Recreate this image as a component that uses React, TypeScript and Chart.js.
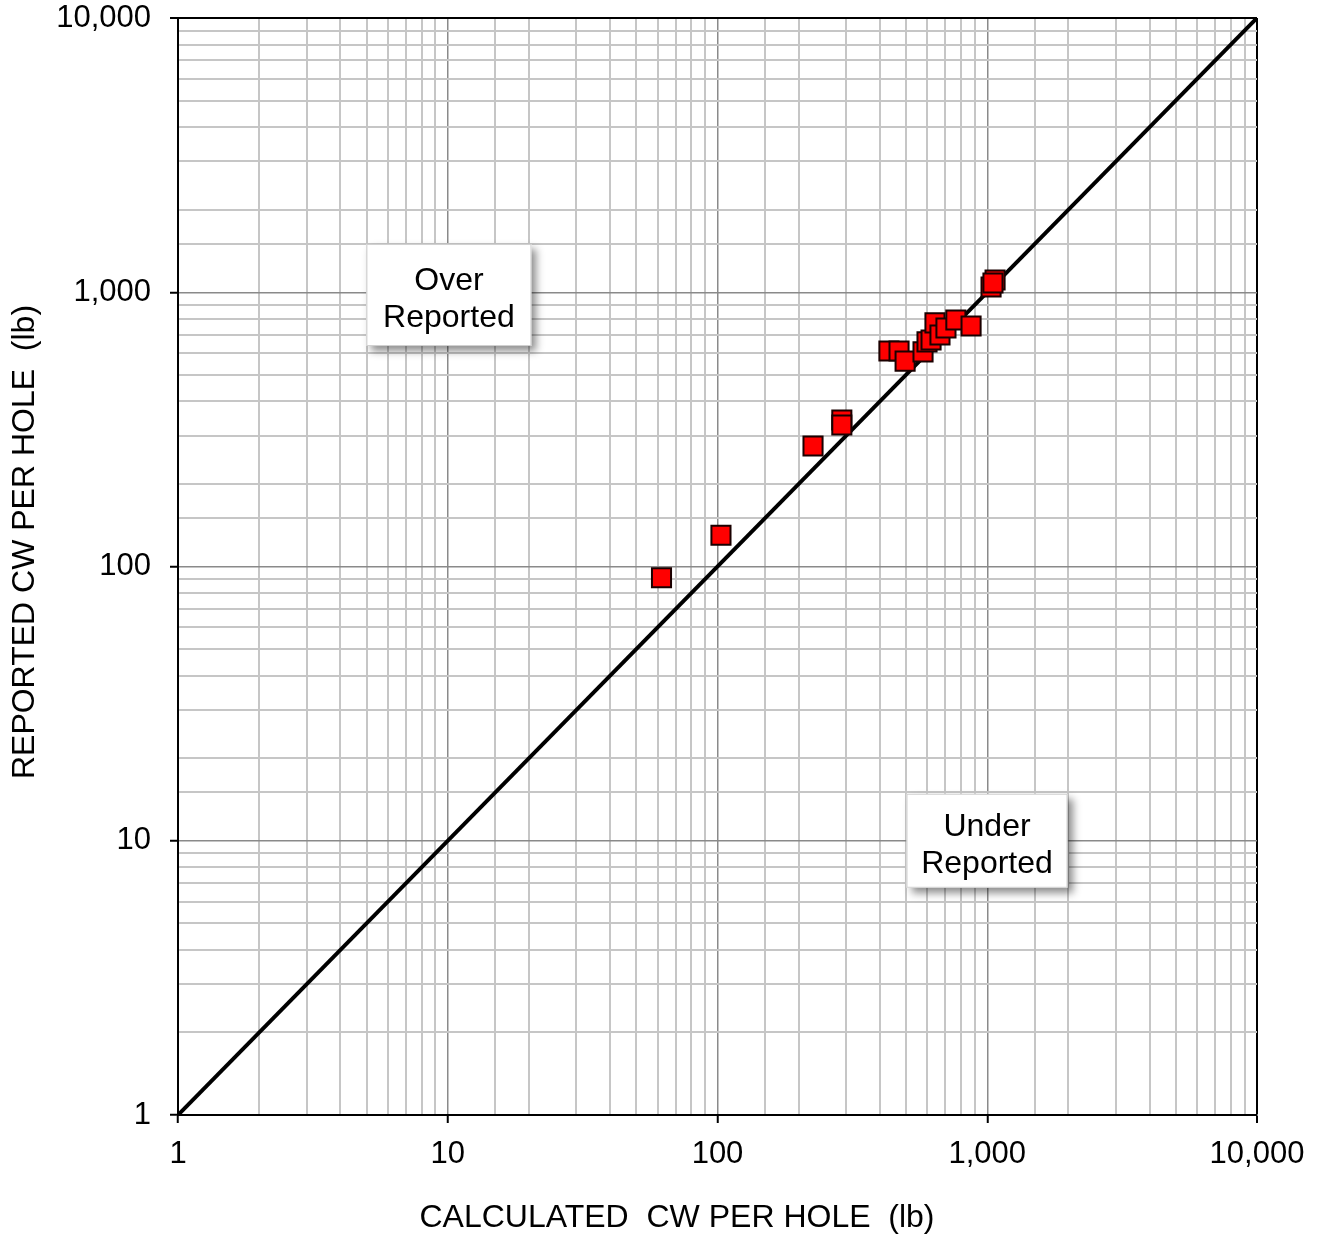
import React, { useEffect, useRef } from "react";
import { Chart, registerables } from "chart.js";

Chart.register(...registerables);

// Calculated vs reported CW per hole (lb)
const calculated = [62, 103, 226, 289, 289, 432, 471, 496, 578, 598, 619, 640, 668, 703, 765, 871, 1033, 1069, 1050];
const reported = [91, 130, 275, 342, 328, 611, 611, 561, 606, 659, 670, 773, 698, 741, 792, 753, 1045, 1109, 1081];

const lineX = [1, 10000];
const lineY = [1, 10000];

const annotationTexts = [["Over", "Reported"], ["Under", "Reported"]];
const annotationX = [10.1, 998];
const annotationY = [977, 10];
const annotationW = [165, 161];
const annotationH = [102, 94];

const xTitle = "CALCULATED  CW PER HOLE  (lb)";
const yTitle = "REPORTED CW PER HOLE  (lb)";

const FONT = "'Liberation Sans', Arial, sans-serif";

const isMajor = (v: number) => {
  const l = Math.log10(v);
  return Math.abs(l - Math.round(l)) < 1e-9;
};

const decorPlugin = {
  id: "decor",
  afterDatasetsDraw(chart: any) {
    const { ctx, scales } = chart;
    const xs = scales.x;
    const ys = scales.y;
    ctx.save();
    for (let i = 0; i < annotationTexts.length; i++) {
      const cx = xs.getPixelForValue(annotationX[i]);
      const cy = ys.getPixelForValue(annotationY[i]);
      const w = annotationW[i];
      const h = annotationH[i];
      ctx.save();
      ctx.shadowColor = "rgba(0,0,0,0.45)";
      ctx.shadowBlur = 8;
      ctx.shadowOffsetX = 5;
      ctx.shadowOffsetY = 5;
      ctx.fillStyle = "#ffffff";
      ctx.fillRect(cx - w / 2, cy - h / 2, w, h);
      ctx.restore();
      ctx.strokeStyle = "#d0d0d0";
      ctx.lineWidth = 1;
      ctx.strokeRect(cx - w / 2 + 0.5, cy - h / 2 + 0.5, w - 1, h - 1);
      ctx.fillStyle = "#000";
      ctx.font = `32px ${FONT}`;
      ctx.textAlign = "center";
      ctx.textBaseline = "middle";
      const lines = annotationTexts[i];
      const lh = 37;
      lines.forEach((t, k) => {
        ctx.fillText(t, cx, cy + 5 + (k - (lines.length - 1) / 2) * lh);
      });
    }
    // axis titles
    ctx.fillStyle = "#000";
    ctx.font = `32px ${FONT}`;
    ctx.textAlign = "center";
    ctx.textBaseline = "middle";
    ctx.fillText(xTitle, 677, 1218);
    ctx.save();
    ctx.translate(25, 542);
    ctx.rotate(-Math.PI / 2);
    ctx.fillText(yTitle, 0, 0);
    ctx.restore();
    ctx.restore();
  },
};

export default function App() {
  const ref = useRef<HTMLCanvasElement | null>(null);
  useEffect(() => {
    if (!ref.current) return;
    const gridColor = (ctx: any) => {
      const v = ctx.tick && ctx.tick.value;
      if (v === 10000) return "#000000";
      return isMajor(v) ? "#8a8a8a" : "#c6c6c6";
    };
    const gridWidth = (ctx: any) => {
      const v = ctx.tick && ctx.tick.value;
      if (v === 10000) return 2;
      return isMajor(v) ? 1.5 : 2;
    };
    const tickColor = (ctx: any) => {
      const v = ctx.tick && ctx.tick.value;
      return isMajor(v) ? "#000000" : "rgba(0,0,0,0)";
    };
    const tickCb = (v: any) => (isMajor(Number(v)) ? Number(v).toLocaleString("en-US") : "");
    const chart = new Chart(ref.current, {
      type: "scatter",
      data: {
        datasets: [
          {
            label: "Holes",
            data: calculated.map((x, i) => ({ x, y: reported[i] })),
            pointStyle: "rect",
            pointRadius: 13.5,
            pointHoverRadius: 13.5,
            backgroundColor: "#ff0000",
            borderColor: "#1a0000",
            borderWidth: 2,
            order: 0,
          },
          {
            label: "1:1",
            data: lineX.map((x, i) => ({ x, y: lineY[i] })),
            showLine: true,
            borderColor: "#000",
            borderWidth: 4,
            pointRadius: 0,
            order: 1,
          } as any,
        ],
      },
      options: {
        responsive: false,
        animation: false,
        layout: { padding: { left: 0, top: 18, right: 63, bottom: 0 } },
        plugins: { legend: { display: false }, tooltip: { enabled: false } },
        scales: {
          x: {
            type: "logarithmic",
            min: 1,
            max: 10000,
            afterFit: (s: any) => {
              s.height = 120;
              s.paddingLeft = 0;
              s.paddingRight = 0;
            },
            border: { color: "#000", width: 2 },
            grid: { color: gridColor, lineWidth: gridWidth, tickColor, tickLength: 8, tickWidth: 2 },
            ticks: {
              callback: tickCb,
              autoSkip: false,
              maxRotation: 0,
              padding: 13,
              color: "#000",
              font: { family: FONT, size: 31 },
            },
          },
          y: {
            type: "logarithmic",
            min: 1,
            max: 10000,
            afterFit: (s: any) => {
              s.width = 178;
              s.paddingTop = 0;
              s.paddingBottom = 0;
            },
            border: { color: "#000", width: 2 },
            grid: { color: gridColor, lineWidth: gridWidth, tickColor, tickLength: 8, tickWidth: 2 },
            ticks: {
              callback: tickCb,
              autoSkip: false,
              padding: 19,
              color: "#000",
              font: { family: FONT, size: 31 },
            },
          },
        },
      } as any,
      plugins: [decorPlugin],
    });
    return () => chart.destroy();
  }, []);
  return (
    <div style={{ position: "absolute", left: 0, top: 0, width: 1320, height: 1235, background: "#fff" }}>
      <canvas ref={ref} width={1320} height={1235} />
    </div>
  );
}
